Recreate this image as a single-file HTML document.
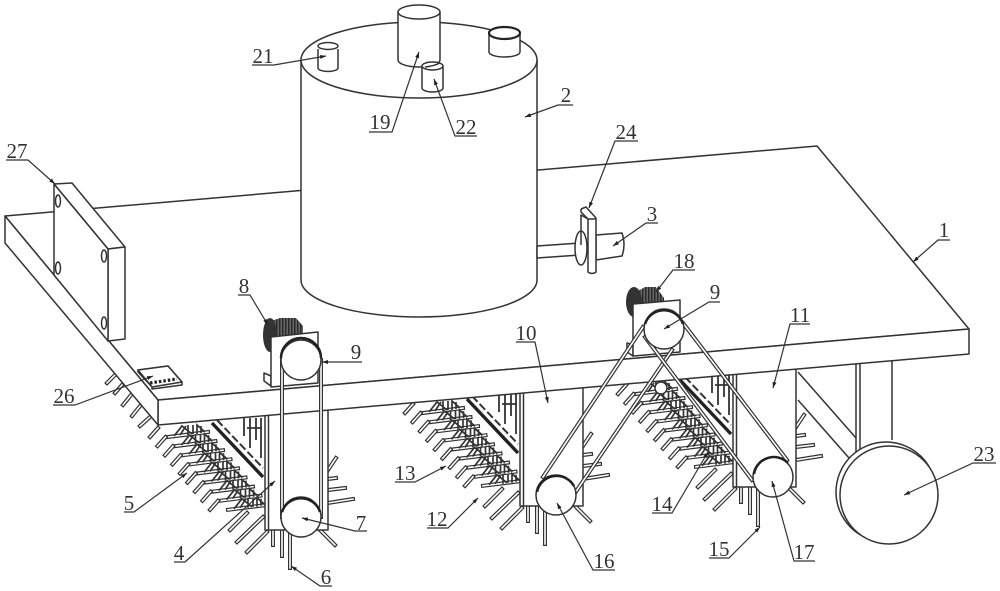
<!DOCTYPE html>
<html><head><meta charset="utf-8"><style>
html,body{margin:0;padding:0;background:#fff}
svg{display:block}
.s{fill:none;stroke:#333;stroke-width:1.5;stroke-linejoin:round}
.w{fill:#fff;stroke:#333;stroke-width:1.5;stroke-linejoin:round}
.o{fill:none;stroke:#333;stroke-width:4;stroke-linecap:square}
.i{fill:none;stroke:#fff;stroke-width:1.6;stroke-linecap:square}
.l{fill:none;stroke:#333;stroke-width:1.2;marker-end:url(#ah)}
.t{font-family:"Liberation Serif",serif;font-size:21px;fill:#333;text-anchor:middle}
</style></head><body>
<svg width="1000" height="591" viewBox="0 0 1000 591" xmlns="http://www.w3.org/2000/svg">
<defs>
<marker id="ah" markerUnits="userSpaceOnUse" markerWidth="7" markerHeight="5" refX="6" refY="2.500" orient="auto"><path d="M0 0.500L6 2.500L0 4.500Z" fill="#222"/></marker>
<pattern id="st" width="3" height="3" patternUnits="userSpaceOnUse"><rect width="3" height="3" fill="#666"/><rect width="1.5" height="3" fill="#2a2a2a"/></pattern>
<path id="rodp" d="M150 437L158 428M168 437L208 432"/>
<g id="row">
<use href="#rodp" class="o"/><use href="#rodp" class="i"/>
<path d="M174 436L182 426L192 434M180 435L186 426M188 435L188 425M193 434V425M197 434L197 425L205 432M201 433V426" fill="none" stroke="#333" stroke-width="1.7"/>
</g>
<path id="extra" d="M230 530L247 513M237 542L263 517M247 552L267 532M273 530V545M282 530V556M290 530V568M328 470L336 458M328 479L336 478M328 490L345 488M328 503L353 499M318 528L335 545"/>
<g id="unit">
<use href="#row"/>
<use href="#row" x="7.5" y="9.1"/>
<use href="#row" x="15" y="18.2"/>
<use href="#row" x="22.5" y="27.3"/>
<use href="#row" x="30" y="36.4"/>
<use href="#row" x="37.5" y="45.5"/>
<use href="#row" x="45" y="54.6"/>
<use href="#row" x="52.5" y="63.7"/>
<use href="#row" x="60" y="72.8"/>
<use href="#extra" class="o"/><use href="#extra" class="i"/>
<path d="M212 423L263 477" fill="none" stroke="#222" stroke-width="3.4"/>
<path d="M217 420L263 468" fill="none" stroke="#333" stroke-width="2" stroke-dasharray="8 3"/>
<path d="M244 418V436M250 418V448M256 418V440M261 418V458M247 428H262" fill="none" stroke="#333" stroke-width="1.8"/>
<rect x="265" y="405" width="63" height="125" class="w"/>
<path d="M268.500 405V530" class="s"/>
</g>
<path id="beltL" d="M282 360V517M321 360V517"/>
<path id="b2" d="M543 477L643 327M575 493L672 350"/>
<path id="b3" d="M645 337L752 480M683 323L787 460"/>
</defs>

<g>
<path d="M107 383L115 375M115 393L122 385M123 405L131 395M132 416L140 406M140 426L150 417" class="o"/>
<path d="M107 383L115 375M115 393L122 385M123 405L131 395M132 416L140 406M140 426L150 417" class="i"/>
</g>

<use href="#unit"/>
<use href="#unit" x="255" y="-24"/>
<use href="#unit" x="468" y="-43"/>
<circle cx="661" cy="388" r="6" class="w"/>

<path d="M798 372L856 438M798 400L849 458" class="s"/>
<path d="M856 360V452M860 360V450M892 358V440" class="s"/>
<circle cx="886" cy="492" r="50" class="w"/>
<circle cx="889" cy="495" r="49" class="w"/>

<polygon points="5,216 817,146 969,329 158,400" class="w"/>
<polygon points="158,400 969,329 969,354 158,425" class="w"/>
<polygon points="5,216 158,400 158,425 5,243" class="w"/>

<path d="M301 60V280A118 37 0 0 0 537 280V60Z" class="w"/>
<ellipse cx="419" cy="60" rx="118" ry="38" class="w"/>
<path d="M318 49V68A10 3.500 0 0 0 338 68V49" class="w"/><ellipse cx="328" cy="46" rx="10" ry="3.500" class="w"/>
<path d="M398 12V60A21 7 0 0 0 440 60V12Z" class="w"/><ellipse cx="419" cy="12" rx="21" ry="7" class="w"/>
<path d="M489 33V52A15.500 5 0 0 0 520 52V33Z" class="w"/><ellipse cx="504.500" cy="33" rx="15.500" ry="6" fill="#fff" stroke="#222" stroke-width="2.200"/>
<path d="M422 66V88A10.500 4 0 0 0 443 88V66Z" class="w"/><ellipse cx="432.500" cy="66" rx="10.500" ry="4" class="w"/>
<path d="M425 67Q434 66 440 63" class="s"/>

<path d="M537 246L580 243V255L537 258Z" class="w"/>
<path d="M596 235L622 233Q626 245 622 256L596 260Z" class="w"/>
<ellipse cx="581" cy="248" rx="6" ry="17" class="w"/>
<path d="M581 209L586 207L596 218L596 272Q592 275 588 272L588 219L581 215V245" class="w"/>
<path d="M581 209V212L588 219H596" class="s"/>

<polygon points="54,184 72,183 125,247 108,249" class="w"/>
<polygon points="108,249 125,247 125,339 108,341" class="w"/>
<polygon points="54,184 108,249 108,341 54,275" class="w"/>
<ellipse cx="58" cy="201" rx="2.500" ry="6" class="s"/><ellipse cx="58" cy="268" rx="2.500" ry="6" class="s"/>
<ellipse cx="104" cy="256" rx="2.500" ry="6" class="s"/><ellipse cx="104" cy="323" rx="2.500" ry="6" class="s"/>

<polygon points="138,370 168,366 182,382 182,385 152,389 152,387 138,372" class="w"/>
<polygon points="138,370 168,366 182,382 152,387" class="w"/>
<path d="M150 383L177 379" fill="none" stroke="#222" stroke-width="3.200" stroke-dasharray="2.500 2"/>

<path d="M268 322L280 318H296L303 326V350H268Z" fill="url(#st)"/><ellipse cx="270" cy="335" rx="7" ry="17" fill="#333"/>
<path d="M264 373L264 381L271 386V376Z" class="w"/>
<polygon points="271,337 318,332 318,383 271,387" class="w"/>
<path d="M631 295L645 287H656L664 298V317H632Z" fill="url(#st)"/><ellipse cx="634" cy="302" rx="8" ry="15" fill="#333"/>
<path d="M627 343L627 352L633 356V345Z" class="w"/>
<polygon points="633,304 680,300 680,352 633,356" class="w"/>

<use href="#beltL" class="o"/><use href="#beltL" class="i"/>
<use href="#b2" class="o"/><use href="#b2" class="i"/>
<use href="#b3" class="o"/><use href="#b3" class="i"/>

<g>
<circle cx="301" cy="360" r="20" class="w"/><path d="M281 358A20 20 0 0 1 321 358" fill="none" stroke="#222" stroke-width="2.500"/>
<circle cx="301" cy="517" r="20" class="w"/><path d="M282 512A20 20 0 0 1 320 512" fill="none" stroke="#222" stroke-width="2.500"/>
<circle cx="664" cy="329" r="20" class="w"/><path d="M645 324A20 20 0 0 1 683 324" fill="none" stroke="#222" stroke-width="2.500"/>
<circle cx="556" cy="495" r="20" class="w"/><path d="M537 492A20 20 0 0 1 574 486" fill="none" stroke="#222" stroke-width="2.500"/>
<circle cx="773" cy="477" r="20" class="w"/><path d="M754 474A20 20 0 0 1 788 463" fill="none" stroke="#222" stroke-width="2.500"/>
</g>

<path class="l" d="M950 240H938L913 262"/>
<path class="l" d="M573 105H558L525 117"/>
<path class="l" d="M658 223H646L613 246"/>
<path class="l" d="M369 132H392L419 52"/>
<path class="l" d="M477 136H455L434 79"/>
<path class="l" d="M252 65H274L326 56"/>
<path class="l" d="M638 141H615L589 208"/>
<path class="l" d="M6 160H28L55 184"/>
<path class="l" d="M53 405H75L153 376"/>
<path class="l" d="M238 295H250L268 325"/>
<path class="l" d="M362 362H322"/>
<path class="l" d="M720 302H709L664 329"/>
<path class="l" d="M695 270H673L656 292"/>
<path class="l" d="M516 342H535L548 403"/>
<path class="l" d="M810 324H790L773 388"/>
<path class="l" d="M395 482H415L446 466"/>
<path class="l" d="M427 528H448L478 498"/>
<path class="l" d="M124 512H134L187 473"/>
<path class="l" d="M174 562H185L275 481"/>
<path class="l" d="M367 531H355L302 518"/>
<path class="l" d="M332 586H320L291 566"/>
<path class="l" d="M652 513H672L708 452"/>
<path class="l" d="M709 558H729L760 527"/>
<path class="l" d="M615 570H593L557 503"/>
<path class="l" d="M815 561H794L772 481"/>
<path class="l" d="M996 463H973L904 495"/>

<text class="t" x="944" y="237">1</text>
<text class="t" x="566" y="102">2</text>
<text class="t" x="652" y="221">3</text>
<text class="t" x="179" y="560">4</text>
<text class="t" x="129" y="510">5</text>
<text class="t" x="326" y="584">6</text>
<text class="t" x="361" y="530">7</text>
<text class="t" x="244" y="293">8</text>
<text class="t" x="356" y="359">9</text>
<text class="t" x="715" y="299">9</text>
<text class="t" x="526" y="340">10</text>
<text class="t" x="800" y="322">11</text>
<text class="t" x="437" y="526">12</text>
<text class="t" x="405" y="480">13</text>
<text class="t" x="662" y="511">14</text>
<text class="t" x="719" y="556">15</text>
<text class="t" x="604" y="568">16</text>
<text class="t" x="804" y="559">17</text>
<text class="t" x="684" y="268">18</text>
<text class="t" x="380" y="129">19</text>
<text class="t" x="263" y="63">21</text>
<text class="t" x="466" y="134">22</text>
<text class="t" x="984" y="461">23</text>
<text class="t" x="626" y="139">24</text>
<text class="t" x="64" y="403">26</text>
<text class="t" x="17" y="158">27</text>
</svg>
</body></html>
